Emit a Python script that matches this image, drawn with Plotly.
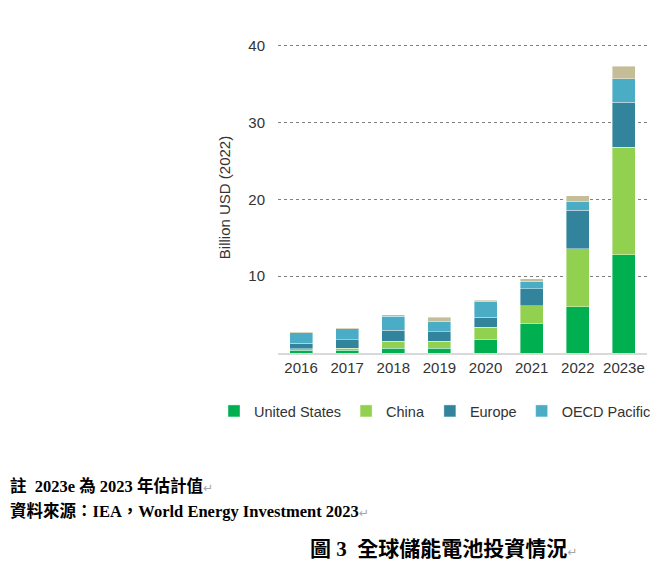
import plotly.graph_objects as go

years = ["2016", "2017", "2018", "2019", "2020", "2021", "2022", "2023e"]
united_states = [0.35, 0.35, 0.6, 0.65, 1.7, 3.8, 6.0, 12.8]
china = [0.2, 0.3, 0.95, 0.9, 1.65, 2.35, 7.6, 14.0]
europe = [0.75, 1.1, 1.4, 1.25, 1.3, 2.2, 5.0, 5.85]
oecd_pacific = [1.35, 1.4, 1.85, 1.35, 2.05, 1.0, 1.15, 3.05]
rest_of_world = [0.1, 0.15, 0.15, 0.5, 0.2, 0.3, 0.75, 1.65]
y_ticks = [10, 20, 30, 40]

series = [
    ("United States", united_states, "#00b050", True),
    ("China", china, "#92d050", True),
    ("Europe", europe, "#31849b", True),
    ("OECD Pacific", oecd_pacific, "#4bacc6", True),
    ("Rest of world", rest_of_world, "#c4bd97", False),
]

fig = go.Figure()
for name, vals, color, show in series:
    fig.add_trace(go.Bar(
        x=years, y=vals, name=name, showlegend=show,
        marker=dict(color=color, line=dict(color="rgba(255,255,255,0.5)", width=0.8)),
    ))

# page has an 8px body margin; lay out in page pixels and shift
OFF = 8
W, H = 670 - OFF, 573 - OFF
L, T = 278 - OFF, 42 - OFF
R = W - (647 - OFF)
B = H - (353 - OFF)
pw, ph = W - L - R, H - T - B

def px(x):
    return (x - OFF - L) / pw

def py(y):
    return (H - B - (y - OFF)) / ph

mark = "<span style='color:#a6a6a6;font-family:DejaVu Sans;font-weight:normal;font-size:12px'>↵</span>"
cjk = "Liberation Serif, Noto Sans CJK TC"

fig.update_layout(
    width=W, height=H,
    margin=dict(l=L, r=R, t=T, b=B),
    paper_bgcolor="white", plot_bgcolor="white",
    barmode="stack", bargap=0.5,
    font=dict(family="Liberation Sans, Arial", size=15, color="#333333"),
    showlegend=True,
    legend=dict(orientation="h", x=px(214), xanchor="left", y=py(411), yanchor="middle",
                font=dict(size=14.5, color="#333333"), traceorder="normal",
                bgcolor="rgba(0,0,0,0)"),
    xaxis=dict(showgrid=False, showline=True, linecolor="#d9d9d9", linewidth=2,
               ticks="", tickfont=dict(size=15, color="#333333")),
    yaxis=dict(range=[0, 40.5], tickvals=y_ticks, showgrid=True, gridcolor="#7f7f7f",
               griddash="dot", gridwidth=1, zeroline=False, showline=False, ticks="",
               ticklabelstandoff=12, tickfont=dict(size=15, color="#333333"),
               title=dict(text="Billion USD (2022)", font=dict(size=15, color="#333333"), standoff=14)),
    annotations=[
        dict(text="<b>註  2023e 為 2023 年估計值</b>" + mark, xref="paper", yref="paper",
             x=px(OFF), y=py(486), xanchor="left", yanchor="middle", showarrow=False,
             font=dict(family=cjk, size=16.5, color="#000000")),
        dict(text="<b>資料來源：IEA，World Energy Investment 2023</b>" + mark, xref="paper", yref="paper",
             x=px(OFF), y=py(511), xanchor="left", yanchor="middle", showarrow=False,
             font=dict(family=cjk, size=16.5, color="#000000")),
        dict(text="<b>圖 3  全球儲能電池投資情況</b>" + mark, xref="paper", yref="paper",
             x=px(308), y=py(549), xanchor="left", yanchor="middle", showarrow=False,
             font=dict(family=cjk, size=21, color="#000000")),
    ],
)

fig.write_html("out.html")
